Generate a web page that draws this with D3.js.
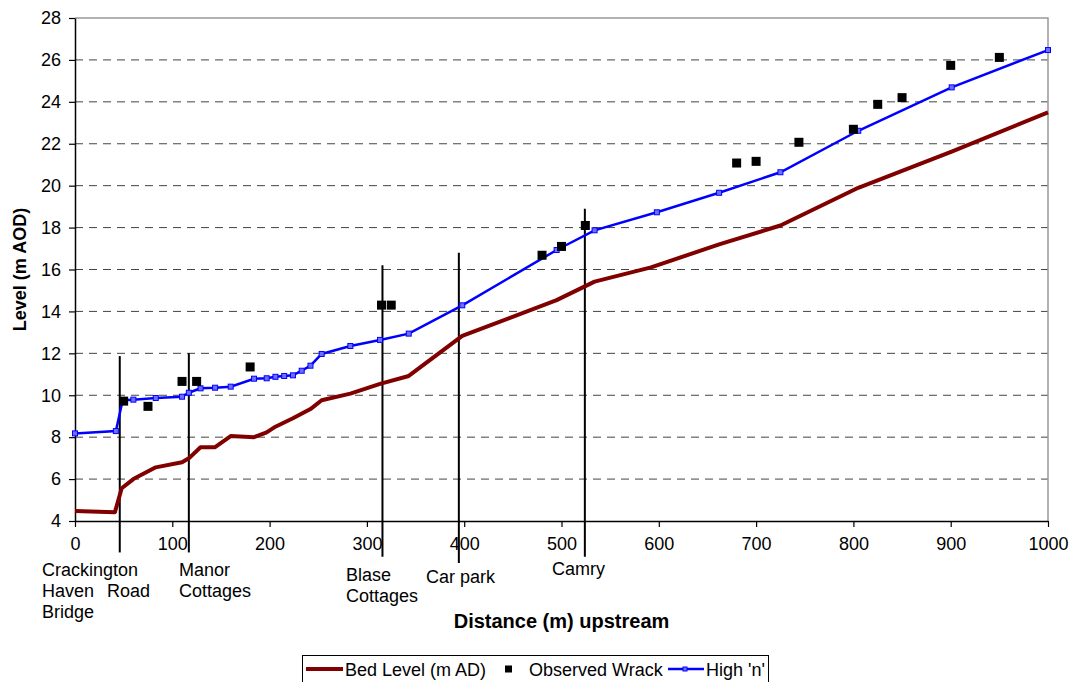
<!DOCTYPE html>
<html><head><meta charset="utf-8">
<script src="https://cdn.jsdelivr.net/npm/d3@7"></script>
<style>
body{margin:0;background:#fff;}
text{font-family:Arial,"Liberation Sans",sans-serif;}
</style></head><body>
<svg id="c" width="1073" height="682"></svg>
<script>
// Data
const bedX = [0,41,48,60,83,110,117,129,144,160,184,197,206,224,242,253.5,283,313.5,343,398,495,534,592,662,725,805,901,1000];
const bedY = [4.48,4.42,5.56,6.0,6.56,6.8,6.99,7.52,7.52,8.05,8.0,8.23,8.5,8.9,9.34,9.76,10.08,10.54,10.92,12.83,14.54,15.42,16.1,17.2,18.1,19.9,21.62,23.5];
const highX = [0,42,49,60,83,110,117,129,144,160,184,197,206,215,224,233,242,253.5,283,313.5,343,398,495,534,598,662,725,805,901,1000];
const highY = [8.18,8.29,9.76,9.79,9.87,9.93,10.12,10.33,10.36,10.41,10.79,10.81,10.88,10.92,10.95,11.17,11.41,11.97,12.35,12.64,12.94,14.29,16.93,17.87,18.73,19.66,20.64,22.62,24.69,26.47];
const wrackX = [50,75,110,125,180,315,325,480,500,524.5,680,700,744,800,825,850,900,950];
const wrackY = [9.72,9.47,10.66,10.66,11.35,14.3,14.3,16.68,17.1,18.1,21.08,21.16,22.07,22.69,23.88,24.2,25.74,26.12];
const siteX = [46,117,316,394.5,524];
const siteTop = [11.87,12.0,16.2,16.8,18.9];
const siteBottom = [2.5,2.5,2.3,2.0,2.3];
const siteLabels = [["Crackington","Haven","Bridge"],["Road"],["Manor","Cottages"],["Blase","Cottages"],["Car park"],["Camry"]];
const xTicks = [0,100,200,300,400,500,600,700,800,900,1000];
const yTicks = [4,6,8,10,12,14,16,18,20,22,24,26,28];
const seriesNames = ["Bed Level (m AD)","Observed Wrack","High 'n'"];

const svg = d3.select("#c");
const L=75,R=1048,T=18,B=521;
const x = d3.scaleLinear().domain([0,1000]).range([L,R]);
const y = d3.scaleLinear().domain([4,28]).range([B,T]);

// gridlines
svg.append("g").selectAll("line").data(yTicks.filter(v=>v>4&&v<28)).join("line")
  .attr("x1",L).attr("x2",R).attr("y1",d=>y(d)).attr("y2",d=>y(d))
  .attr("stroke","#444").attr("stroke-width",1).attr("stroke-dasharray","8,6");
// plot border top/right
svg.append("path").attr("d",`M${L},${T}H${R}V${B}`).attr("fill","none").attr("stroke","#999").attr("stroke-width",1.5);

// axes
const xa = svg.append("g").attr("transform",`translate(0,${B})`)
  .call(d3.axisBottom(x).tickValues(xTicks).tickFormat(d3.format("d")).tickSize(6).tickSizeOuter(0).tickPadding(10));
const ya = svg.append("g").attr("transform",`translate(${L},0)`)
  .call(d3.axisLeft(y).tickValues(yTicks).tickFormat(d3.format("d")).tickSize(6).tickSizeOuter(0).tickPadding(8));
[xa,ya].forEach(a=>{
  a.selectAll("text").attr("font-size",18).attr("fill","#000").attr("font-family","Arial, 'Liberation Sans', sans-serif");
  a.select(".domain").attr("stroke","#000").attr("stroke-width",1.5);
  a.selectAll(".tick line").attr("stroke","#000").attr("stroke-width",1.2);
});

// vertical site lines
svg.append("g").selectAll("line").data(siteX).join("line")
  .attr("x1",d=>x(d)).attr("x2",d=>x(d))
  .attr("y1",(d,i)=>y(siteTop[i])).attr("y2",(d,i)=>y(siteBottom[i]))
  .attr("stroke","#000").attr("stroke-width",2);

// bed line
const bed = bedX.map((d,i)=>[d,bedY[i]]);
svg.append("path").datum(bed).attr("d",d3.line().x(d=>x(d[0])).y(d=>y(d[1])))
  .attr("fill","none").attr("stroke","#800000").attr("stroke-width",4).attr("stroke-linejoin","round");

// high n line
const high = highX.map((d,i)=>[d,highY[i]]);
svg.append("path").datum(high).attr("d",d3.line().x(d=>x(d[0])).y(d=>y(d[1])))
  .attr("fill","none").attr("stroke","#0000ff").attr("stroke-width",2.5);
svg.append("g").selectAll("rect").data(high).join("rect")
  .attr("x",d=>x(d[0])-2.5).attr("y",d=>y(d[1])-2.5).attr("width",5).attr("height",5)
  .attr("fill","#6f6fff").attr("stroke","#0000ff").attr("stroke-width",1);

// wrack
const wr = wrackX.map((d,i)=>[d,wrackY[i]]);
svg.append("g").selectAll("rect").data(wr).join("rect")
  .attr("x",d=>x(d[0])-4.5).attr("y",d=>y(d[1])-4.5).attr("width",9).attr("height",9).attr("fill","#000");

// site labels
const labX = [42,107,179,346,426,552];
const labY = [576,597,576,581,583,575];
siteLabels.forEach((lines,i)=>{
  const t = svg.append("text").attr("x",labX[i]).attr("y",labY[i]).attr("font-size",18).attr("fill","#000");
  lines.forEach((s,j)=>t.append("tspan").attr("x",labX[i]).attr("dy",j?21:0).text(s));
});

// axis titles
svg.append("text").attr("x",(L+R)/2).attr("y",628).attr("text-anchor","middle")
  .attr("font-size",20).attr("font-weight","bold").text("Distance (m) upstream");
svg.append("text").attr("transform",`translate(26,${(T+B)/2}) rotate(-90)`).attr("text-anchor","middle")
  .attr("font-size",18).attr("font-weight","bold").text("Level (m AOD)");

// legend
const lg = svg.append("g");
lg.append("rect").attr("x",302.5).attr("y",655.5).attr("width",466).attr("height",40).attr("fill","#fff").attr("stroke","#000").attr("stroke-width",1);
lg.append("line").attr("x1",306).attr("x2",343).attr("y1",669).attr("y2",669).attr("stroke","#800000").attr("stroke-width",4);
lg.append("text").attr("x",345).attr("y",675.5).attr("font-size",18).text(seriesNames[0]);
lg.append("rect").attr("x",505).attr("y",665.5).attr("width",7).attr("height",7).attr("fill","#000");
lg.append("text").attr("x",529).attr("y",675.5).attr("font-size",18).text(seriesNames[1]);
lg.append("line").attr("x1",668).attr("x2",704).attr("y1",669).attr("y2",669).attr("stroke","#0000ff").attr("stroke-width",2.5);
lg.append("rect").attr("x",683).attr("y",667).attr("width",4).attr("height",4).attr("fill","#6f6fff").attr("stroke","#0000ff");
lg.append("text").attr("x",706).attr("y",675.5).attr("font-size",18).text(seriesNames[2]);
</script></body></html>
